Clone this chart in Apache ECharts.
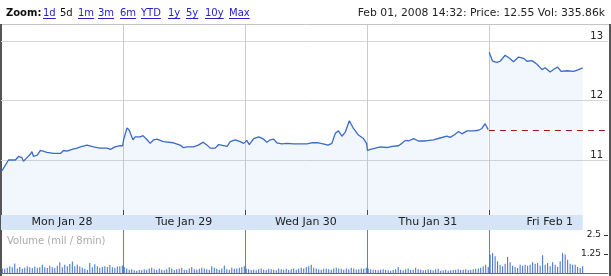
<!DOCTYPE html>
<html><head><meta charset="utf-8">
<script src="https://cdn.jsdelivr.net/npm/echarts@6/dist/echarts.min.js"></script>
<style>html,body{margin:0;padding:0;background:#fff}#c{width:611px;height:276px}</style>
</head><body><div id="c"></div>
<script>
// ---------- data ----------
const dayLabels = ['Mon Jan 28', 'Tue Jan 29', 'Wed Jan 30', 'Thu Jan 31', 'Fri Feb 1'];
const dayStarts = [0, 390, 780, 1170, 1560]; // trading minutes since Mon 9:30
const priceTicks = [11, 12, 13];
const volumeTicks = [1.25, 2.5];
const prevClose = 11.50;
const barMinutes = 8;
const zoomLinks = ['1d', '5d', '1m', '3m', '6m', 'YTD', '1y', '5y', '10y', 'Max'];
const zoomCurrent = '5d';
const headerQuote = 'Feb 01, 2008 14:32: Price: 12.55 Vol: 335.86k';
const volumeTitle = 'Volume (mil / 8min)';

const priceMinutes = [
  0,8,24,46,56,67,72,83,94,99,104,115,126,147,168,190,200,211,227,243,254,259,275,296,317,339,350,365,381,389,
  392,403,410,422,429,445,454,467,477,488,499,519,551,573,583,595,615,631,647,659,669,685,696,701,723,733,749,765,776,
  786,794,808,824,840,850,861,872,882,898,914,935,957,978,994,1014,1030,1046,1058,1069,1079,1090,1101,1114,1127,1143,1159,1169,
  1172,1181,1186,1197,1213,1234,1250,1271,1282,1293,1303,1319,1335,1357,1383,1404,1426,1436,1449,1463,1474,1490,1511,1527,1538,1548,1558,
  1561,1572,1586,1596,1612,1626,1639,1655,1671,1682,1698,1714,1730,1740,1756,1769,1780,1791,1810,1831,1847,1860
];
const priceValues = [
  10.80,10.86,11.00,11.00,11.06,11.04,10.98,11.04,11.10,11.14,11.06,11.08,11.16,11.13,11.11,11.11,11.16,11.15,11.18,11.20,11.22,11.20,11.25,11.22,11.20,11.20,11.18,11.22,11.24,11.24,
  11.34,11.54,11.50,11.34,11.39,11.39,11.41,11.34,11.28,11.34,11.35,11.31,11.29,11.25,11.21,11.22,11.22,11.25,11.30,11.25,11.20,11.20,11.26,11.23,11.23,11.31,11.34,11.31,11.28,
  11.33,11.26,11.36,11.39,11.35,11.30,11.34,11.35,11.29,11.27,11.28,11.27,11.27,11.27,11.29,11.29,11.27,11.25,11.28,11.45,11.49,11.40,11.47,11.66,11.53,11.42,11.36,11.28,
  11.16,11.18,11.20,11.20,11.22,11.21,11.23,11.24,11.28,11.33,11.32,11.36,11.32,11.32,11.34,11.37,11.40,11.38,11.42,11.48,11.44,11.49,11.49,11.50,11.53,11.61,11.51,
  12.81,12.66,12.64,12.66,12.76,12.71,12.65,12.73,12.71,12.66,12.67,12.61,12.52,12.55,12.48,12.53,12.56,12.49,12.50,12.49,12.52,12.55
];

const volMon = [0.30,0.28,0.35,0.45,0.38,0.62,0.30,0.40,0.28,0.35,0.45,0.38,0.33,0.42,0.35,0.38,0.55,0.38,0.33,0.48,0.38,0.33,0.48,0.70,0.38,0.55,0.45,0.60,0.75,0.45,0.55,0.42,0.35,0.28,0.22,0.65,0.38,0.58,0.45,0.35,0.40,0.45,0.40,0.52,0.38,0.35,0.42,0.45,0.50];
const volTue = [0.40,0.30,0.22,0.25,0.18,0.15,0.20,0.18,0.25,0.22,0.30,0.35,0.25,0.20,0.30,0.22,0.18,0.25,0.38,0.30,0.20,0.25,0.28,0.35,0.22,0.20,0.30,0.40,0.25,0.22,0.28,0.35,0.30,0.25,0.22,0.45,0.35,0.28,0.22,0.30,0.50,0.25,0.22,0.35,0.28,0.30,0.35,0.40,0.45];
const volWed = [0.30,0.25,0.20,0.22,0.18,0.25,0.30,0.22,0.20,0.28,0.25,0.22,0.18,0.30,0.25,0.22,0.28,0.20,0.25,0.30,0.22,0.28,0.35,0.30,0.40,0.45,0.55,0.35,0.30,0.25,0.22,0.28,0.30,0.25,0.22,0.30,0.35,0.30,0.28,0.22,0.30,0.25,0.35,0.30,0.22,0.25,0.30,0.28,0.35];
const volThu = [0.30,0.25,0.22,0.20,0.18,0.22,0.25,0.20,0.18,0.15,0.20,0.25,0.40,0.22,0.18,0.25,0.30,0.20,0.22,0.35,0.25,0.22,0.18,0.20,0.25,0.22,0.18,0.25,0.28,0.15,0.18,0.22,0.15,0.18,0.20,0.22,0.25,0.20,0.22,0.25,0.20,0.22,0.25,0.28,0.30,0.35,0.45,0.55,0.40];
const volFri = [1.21,1.32,1.10,0.77,0.55,0.44,0.61,1.05,0.70,0.48,0.39,0.33,0.55,0.48,0.55,0.48,0.55,0.70,0.61,0.66,0.48,1.16,0.55,0.66,0.44,0.70,0.55,0.39,0.77,1.32,1.21,0.88,0.61,0.55,0.55,0.39,0.33,0.44];

// ---------- build ----------
const FONT = '"DejaVu Sans", Verdana, sans-serif';
const xMax = 1941;               // axis extent in trading minutes
const yMin = 10.076, yMax = 13.269;
const volMax = 2.83;
const lastMinute = priceMinutes[priceMinutes.length - 1];

const priceData = [];
for (let i = 0; i < priceMinutes.length; i++) {
  if (i > 0 && priceMinutes[i - 1] < dayStarts[4] && priceMinutes[i] >= dayStarts[4]) {
    priceData.push([dayStarts[4] - 0.5, '-']);
  }
  priceData.push([priceMinutes[i], priceValues[i]]);
}
const volDays = [volMon, volTue, volWed, volThu, volFri];
const volData = [];
volDays.forEach((arr, d) => arr.forEach((v, i) => volData.push([dayStarts[d] + i * barMinutes + barMinutes / 2, v])));
const dayMids = dayStarts.map(s => s + 195);

// header graphics
const mctx = document.createElement('canvas').getContext('2d');
const linkFont = '10px ' + FONT;
mctx.font = linkFont;
const linkX = [43, 60, 78, 98, 120, 141, 168, 186, 205, 229];
const headerEls = [
  {type: 'text', x: 6, y: 13, silent: true, style: {text: 'Zoom:', font: 'bold 10px ' + FONT, fill: '#111', verticalAlign: 'middle'}}
];
zoomLinks.forEach((t, i) => {
  const isCur = t === zoomCurrent;
  const col = isCur ? '#111' : '#2323c8';
  headerEls.push({type: 'text', x: linkX[i], y: 13, silent: true, style: {text: t, font: linkFont, fill: col, verticalAlign: 'middle'}});
  if (!isCur) {
    const w = mctx.measureText(t).width;
    headerEls.push({type: 'line', silent: true, shape: {x1: linkX[i], y1: 18.5, x2: linkX[i] + w, y2: 18.5}, style: {stroke: col, lineWidth: 1}});
  }
});
headerEls.push({type: 'text', x: 605, y: 13, silent: true, style: {text: headerQuote, font: '10.8px ' + FONT, fill: '#222', align: 'right', verticalAlign: 'middle'}});
headerEls.push({type: 'line', silent: true, shape: {x1: 0, y1: 24.5, x2: 611, y2: 24.5}, style: {stroke: '#c4c4c4', lineWidth: 1}});
headerEls.push({type: 'line', silent: true, shape: {x1: 1, y1: 24, x2: 1, y2: 276}, style: {stroke: '#555', lineWidth: 2}});
headerEls.push({type: 'line', silent: true, shape: {x1: 610, y1: 24, x2: 610, y2: 276}, style: {stroke: '#555', lineWidth: 2}});

const chart = echarts.init(document.getElementById('c'), null, {renderer: 'canvas'});
chart.setOption({
  animation: false,
  textStyle: {fontFamily: FONT},
  title: {text: volumeTitle, left: 7, top: 236, padding: 0, textStyle: {fontSize: 10, fontWeight: 'normal', color: '#aaa', fontFamily: FONT}},
  grid: [
    {left: 1, top: 25, width: 607, height: 190},
    {left: 1, top: 215, width: 607, height: 15},
    {left: 1, top: 230, width: 607, height: 43}
  ],
  xAxis: [
    {gridIndex: 0, type: 'value', min: 0, max: xMax,
      axisLine: {show: false, onZero: false},
      axisTick: {show: true, inside: true, length: 5, customValues: dayStarts.slice(1), lineStyle: {color: '#444'}},
      axisLabel: {show: false},
      splitLine: {show: true, lineStyle: {color: '#cccccc'}}},
    {gridIndex: 1, type: 'value', min: 0, max: xMax, position: 'top', z: 10,
      axisLine: {show: false, onZero: false}, axisTick: {show: false}, splitLine: {show: false},
      axisLabel: {inside: true, margin: 2, customValues: dayMids, verticalAlign: 'top', fontSize: 11, color: '#222', fontFamily: FONT,
        formatter: v => dayLabels[Math.floor(v / 390)]}},
    {gridIndex: 2, type: 'value', min: 0, max: xMax,
      axisLine: {show: true, onZero: false, lineStyle: {color: '#666'}},
      axisTick: {show: false, customValues: dayStarts.slice(1)},
      axisLabel: {show: false},
      splitLine: {show: true, lineStyle: {color: '#6e7fa0'}}}
  ],
  yAxis: [
    {gridIndex: 0, type: 'value', min: yMin, max: yMax, position: 'right',
      axisLine: {show: false, onZero: false},
      axisTick: {show: false, customValues: priceTicks},
      axisLabel: {inside: true, margin: 5, customValues: priceTicks, verticalAlign: 'bottom', fontSize: 10, color: '#222', fontFamily: FONT},
      splitLine: {show: true, lineStyle: {color: '#d6d6d6'}}},
    {gridIndex: 1, type: 'value', min: 0, max: 1, show: false},
    {gridIndex: 2, type: 'value', min: 0, max: volMax, position: 'right', z: 10,
      axisLine: {show: false, onZero: false},
      axisTick: {show: true, inside: true, length: 4, customValues: volumeTicks, lineStyle: {color: '#333', width: 1}},
      axisLabel: {inside: true, margin: 7, customValues: volumeTicks, fontSize: 9, color: '#222', fontFamily: FONT},
      splitLine: {show: false}}
  ],
  series: [
    {type: 'line', xAxisIndex: 1, yAxisIndex: 1, data: [], silent: true, z: 1,
      markArea: {silent: true, itemStyle: {color: '#d5e4f6'}, data: [[{xAxis: 0}, {xAxis: lastMinute}]]}},
    {type: 'line', xAxisIndex: 0, yAxisIndex: 0, data: priceData, showSymbol: false, symbol: 'none', silent: true,
      lineStyle: {color: '#3a6bc8', width: 1.3},
      areaStyle: {color: 'rgba(110,165,235,0.13)', origin: 'start'},
      markLine: {silent: true, symbol: 'none', label: {show: false},
        lineStyle: {color: '#a01818', type: [6, 5], width: 1.2},
        data: [[{coord: [dayStarts[4], prevClose]}, {coord: [xMax, prevClose]}]]}},
    {type: 'bar', xAxisIndex: 2, yAxisIndex: 2, data: volData, barWidth: 1, silent: true,
      itemStyle: {color: '#3a6bc8'}}
  ],
  graphic: headerEls
});
</script></body></html>
